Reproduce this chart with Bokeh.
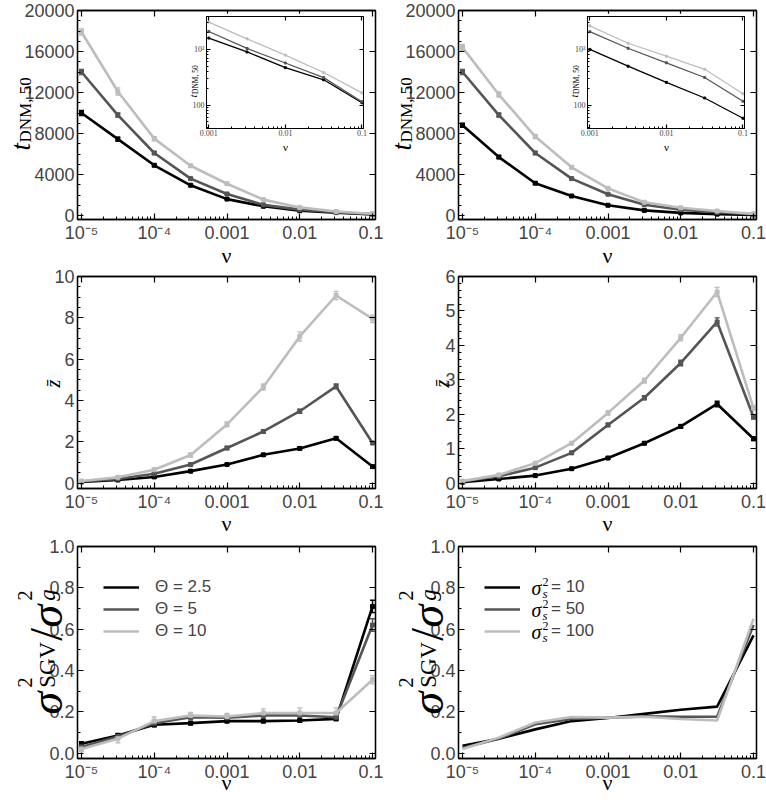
import math
from bokeh.plotting import figure
from bokeh.models import (ColumnDataSource, Range1d, FixedTicker, LogAxis, LinearAxis,
                          CustomJSTickFormatter, PrintfTickFormatter, Label, Legend,
                          LegendItem, Whisker, TeeHead, GridBox)
from bokeh.embed import file_html
from bokeh.resources import INLINE

# ---------------- data ----------------
NU = [1e-5, 3.16e-5, 1e-4, 3.16e-4, 1e-3, 3.16e-3, 1e-2, 3.16e-2, 1e-1]
X_TICKS = [1e-5, 1e-4, 1e-3, 1e-2, 1e-1]
X_TICK_LABELS = ["10\u207b\u2075", "10\u207b\u2074", "0.001", "0.01", "0.1"]
INSET_X_TICKS = [1e-3, 1e-2, 1e-1]
INSET_X_TICK_LABELS = ["0.001", "0.01", "0.1"]
INSET_Y_TICKS = [100, 1000]
INSET_Y_TICK_LABELS = ["100", "10\u00b3"]

THETA_LABELS = ["\u0398 = 2.5", "\u0398 = 5", "\u0398 = 10"]
SIGMA_VALUES = ["= 10", "= 50", "= 100"]
COLORS = ["#000000", "#555555", "#bdbdbd"]

# t_DNM,50 (Theta = 2.5, 5, 10)
T_THETA_25 = [10000, 7450, 4900, 2950, 1600, 900, 470, 285, 110]
T_THETA_5 = [14000, 9800, 6100, 3600, 2100, 1040, 570, 312, 115]
T_THETA_10 = [17900, 12100, 7500, 4850, 3100, 1550, 790, 385, 166]
T_THETA_25_ERR = [250, 180, 120, 70, 40, 20, 10, 5, 2]
T_THETA_5_ERR = [250, 200, 150, 80, 50, 25, 12, 6, 3]
T_THETA_10_ERR = [300, 350, 200, 120, 80, 40, 20, 10, 5]

# t_DNM,50 (sigma_s^2 = 10, 50, 100)
T_SIG_10 = [8800, 5700, 3150, 1900, 1000, 500, 256, 134, 58]
T_SIG_50 = [14000, 9800, 6100, 3600, 2080, 1050, 575, 313, 117]
T_SIG_100 = [16400, 11800, 7700, 4700, 2650, 1290, 755, 440, 160]
T_SIG_10_ERR = [200, 150, 100, 60, 30, 15, 8, 4, 2]
T_SIG_50_ERR = [250, 200, 150, 80, 50, 25, 12, 6, 3]
T_SIG_100_ERR = [300, 250, 200, 120, 70, 35, 18, 9, 4]

# z-bar (Theta)
Z_THETA_25 = [0.06, 0.15, 0.3, 0.58, 0.9, 1.37, 1.68, 2.17, 0.8]
Z_THETA_5 = [0.08, 0.2, 0.45, 0.9, 1.7, 2.5, 3.48, 4.68, 1.94]
Z_THETA_10 = [0.1, 0.28, 0.65, 1.36, 2.84, 4.65, 7.1, 9.08, 7.95]
Z_THETA_25_ERR = [0.02, 0.02, 0.03, 0.04, 0.04, 0.05, 0.06, 0.07, 0.04]
Z_THETA_5_ERR = [0.02, 0.03, 0.05, 0.06, 0.07, 0.08, 0.1, 0.12, 0.06]
Z_THETA_10_ERR = [0.03, 0.05, 0.08, 0.1, 0.12, 0.15, 0.22, 0.2, 0.18]

# z-bar (sigma)
Z_SIG_10 = [0.03, 0.12, 0.22, 0.42, 0.73, 1.16, 1.65, 2.3, 1.29]
Z_SIG_50 = [0.05, 0.2, 0.45, 0.88, 1.69, 2.48, 3.49, 4.68, 1.92]
Z_SIG_100 = [0.06, 0.24, 0.58, 1.16, 2.04, 2.98, 4.22, 5.55, 2.18]
Z_SIG_10_ERR = [0.01, 0.02, 0.02, 0.03, 0.03, 0.04, 0.05, 0.08, 0.05]
Z_SIG_50_ERR = [0.01, 0.02, 0.03, 0.04, 0.05, 0.06, 0.08, 0.12, 0.06]
Z_SIG_100_ERR = [0.01, 0.02, 0.03, 0.04, 0.06, 0.07, 0.09, 0.13, 0.07]

# sigma_SGV^2 / sigma_g^2 (Theta)
R_THETA_25 = [0.045, 0.085, 0.137, 0.145, 0.155, 0.155, 0.158, 0.166, 0.71]
R_THETA_5 = [0.03, 0.08, 0.145, 0.174, 0.171, 0.182, 0.182, 0.174, 0.62]
R_THETA_10 = [0.02, 0.07, 0.155, 0.182, 0.177, 0.194, 0.194, 0.194, 0.355]
R_THETA_25_ERR = [0.01, 0.01, 0.01, 0.008, 0.008, 0.008, 0.008, 0.008, 0.03]
R_THETA_5_ERR = [0.01, 0.01, 0.015, 0.012, 0.012, 0.012, 0.015, 0.01, 0.03]
R_THETA_10_ERR = [0.012, 0.02, 0.02, 0.015, 0.015, 0.02, 0.025, 0.025, 0.02]

# sigma_SGV^2 / sigma_g^2 (sigma)
R_SIG_10 = [0.035, 0.07, 0.115, 0.155, 0.17, 0.19, 0.21, 0.225, 0.57]
R_SIG_50 = [0.025, 0.07, 0.14, 0.165, 0.172, 0.178, 0.176, 0.176, 0.62]
R_SIG_100 = [0.02, 0.075, 0.148, 0.175, 0.172, 0.176, 0.165, 0.158, 0.65]

# ---------------- helpers ----------------
X_LO, X_HI = 10 ** -5.055, 10 ** -0.959
X_MINOR = [m * 10.0 ** e for e in range(-5, -1) for m in range(2, 10)]
INSET_X_MINOR = [m * 10.0 ** e for e in range(-3, -1) for m in range(2, 10)]
INSET_Y_MINOR = [m * 10.0 ** e for e in range(1, 4) for m in range(2, 10)]

SANS = "Liberation Sans"
SERIF = "Liberation Serif"
PAGE_W, PAGE_H = 766, 800
COL_OFF = 381          # horizontal offset between the two columns' frames
ROT = math.pi / 2


def fmt(tick_values, tick_labels):
    return CustomJSTickFormatter(args=dict(tv=tick_values, tl=tick_labels), code="""
        for (let i = 0; i < tv.length; i++) {
            if (Math.abs(Math.log10(tick) - Math.log10(tv[i])) < 1e-6) return tl[i];
        }
        return '';
    """)


def style_axis(ax, size="18px", font=SANS, tin=6, mtin=3, standoff=3, lw=1.3):
    ax.axis_line_color = "black"
    ax.axis_line_width = lw
    ax.major_tick_in = tin
    ax.major_tick_out = 0
    ax.major_tick_line_width = 1.2
    ax.minor_tick_in = mtin
    ax.minor_tick_out = 0
    ax.minor_tick_line_width = 1
    ax.major_label_text_font = font
    ax.major_label_text_font_size = size
    ax.major_label_standoff = standoff


def blank(ax):
    ax.formatter = CustomJSTickFormatter(code="return '';")
    ax.major_label_text_font_size = "1px"
    ax.major_label_standoff = 0


def main_panel(col, height, b_top, b_bottom, y_start, y_end, y_ticks, y_minor, yfmt=None):
    b_left, b_right = (77, 8) if col == 0 else (75, 10)
    p = figure(width=383, height=height, x_axis_type="log",
               x_range=Range1d(X_LO, X_HI), y_range=Range1d(y_start, y_end),
               output_backend="svg", toolbar_location=None, frame_align=False,
               min_border_left=b_left, min_border_right=b_right,
               min_border_top=b_top, min_border_bottom=b_bottom)
    p.grid.visible = False
    p.outline_line_color = "black"
    p.outline_line_width = 1.3
    xa = p.xaxis[0]
    xa.ticker = FixedTicker(ticks=X_TICKS, minor_ticks=X_MINOR)
    xa.formatter = fmt(X_TICKS, X_TICK_LABELS)
    style_axis(xa)
    ya = p.yaxis[0]
    ya.ticker = FixedTicker(ticks=y_ticks, minor_ticks=y_minor)
    if yfmt is not None:
        ya.formatter = yfmt
    style_axis(ya)
    top = LogAxis(ticker=FixedTicker(ticks=X_TICKS))
    style_axis(top)
    blank(top)
    p.add_layout(top, "above")
    right = LinearAxis(ticker=FixedTicker(ticks=y_ticks))
    style_axis(right)
    blank(right)
    p.add_layout(right, "right")
    return p


def add_series(p, xs, ys, errs, color, width=2.6, marker_size=4, whisker_lw=1.4):
    data = dict(x=xs, y=ys)
    if errs is not None:
        data["lo"] = [y - e for y, e in zip(ys, errs)]
        data["up"] = [y + e for y, e in zip(ys, errs)]
    src = ColumnDataSource(data)
    r = p.line("x", "y", source=src, line_color=color, line_width=width)
    if errs is not None:
        p.add_layout(Whisker(source=src, base="x", lower="lo", upper="up", dimension="height",
                             line_color=color, line_width=whisker_lw,
                             upper_head=TeeHead(size=5, line_color=color, line_width=whisker_lw),
                             lower_head=TeeHead(size=5, line_color=color, line_width=whisker_lw)))
    if marker_size:
        p.scatter("x", "y", source=src, size=marker_size, marker="square",
                  fill_color=color, line_color=color)
    return r


def inset_panel(series):
    q = figure(width=188, height=139, x_axis_type="log", y_axis_type="log",
               x_range=Range1d(10 ** -3.03, 10 ** -0.98), y_range=Range1d(38, 3900),
               output_backend="svg", toolbar_location=None, frame_align=False,
               min_border_left=25, min_border_right=6, min_border_top=3, min_border_bottom=24)
    q.grid.visible = False
    q.outline_line_color = "black"
    q.outline_line_width = 1
    xa = q.xaxis[0]
    xa.ticker = FixedTicker(ticks=INSET_X_TICKS, minor_ticks=INSET_X_MINOR)
    xa.formatter = fmt(INSET_X_TICKS, INSET_X_TICK_LABELS)
    style_axis(xa, size="8px", font=SERIF, tin=4, mtin=2, standoff=1, lw=1)
    ya = q.yaxis[0]
    ya.ticker = FixedTicker(ticks=INSET_Y_TICKS, minor_ticks=INSET_Y_MINOR)
    ya.formatter = fmt(INSET_Y_TICKS, INSET_Y_TICK_LABELS)
    style_axis(ya, size="8px", font=SERIF, tin=4, mtin=2, standoff=2, lw=1)
    top = LogAxis(ticker=FixedTicker(ticks=INSET_X_TICKS))
    style_axis(top, tin=4, lw=1)
    blank(top)
    q.add_layout(top, "above")
    right = LogAxis(ticker=FixedTicker(ticks=INSET_Y_TICKS))
    style_axis(right, tin=4, lw=1)
    blank(right)
    q.add_layout(right, "right")
    for ys, c in zip(series, COLORS):
        add_series(q, NU[4:], ys[4:], None, c, width=1.3, marker_size=2)
    return q


def legend(p, renderers, labels, standoff):
    lg = Legend(items=[LegendItem(label=l, renderers=[r]) for l, r in zip(labels, renderers)],
                location=(26, 117), orientation="vertical", background_fill_alpha=0,
                border_line_color=None, glyph_width=36, glyph_height=20, label_height=20,
                spacing=2, padding=0, margin=0, label_standoff=standoff,
                label_text_font=SANS, label_text_font_size="17px")
    p.add_layout(lg)


# ---------------- panels ----------------
T_TICKS = [0, 4000, 8000, 12000, 16000, 20000]
T_MINOR = [v for v in range(0, 20001, 1000) if v % 4000]

p11 = main_panel(0, 268, 10, 49, -390, 20000, T_TICKS, T_MINOR)
for ys, es, c in zip([T_THETA_25, T_THETA_5, T_THETA_10],
                     [T_THETA_25_ERR, T_THETA_5_ERR, T_THETA_10_ERR], COLORS):
    add_series(p11, NU, ys, es, c)
ins1 = inset_panel([T_THETA_25, T_THETA_5, T_THETA_10])

p12 = main_panel(1, 268, 10, 49, -390, 20000, T_TICKS, T_MINOR)
for ys, es, c in zip([T_SIG_10, T_SIG_50, T_SIG_100],
                     [T_SIG_10_ERR, T_SIG_50_ERR, T_SIG_100_ERR], COLORS):
    add_series(p12, NU, ys, es, c)
ins2 = inset_panel([T_SIG_10, T_SIG_50, T_SIG_100])

p21 = main_panel(0, 270, 8, 50, -0.26, 10, [0, 2, 4, 6, 8, 10],
                 [v / 2 for v in range(0, 21) if v % 4])
for ys, es, c in zip([Z_THETA_25, Z_THETA_5, Z_THETA_10],
                     [Z_THETA_25_ERR, Z_THETA_5_ERR, Z_THETA_10_ERR], COLORS):
    add_series(p21, NU, ys, es, c)

p22 = main_panel(1, 270, 8, 50, -0.155, 6, [0, 1, 2, 3, 4, 5, 6],
                 [v / 5 for v in range(0, 31) if v % 5])
for ys, es, c in zip([Z_SIG_10, Z_SIG_50, Z_SIG_100],
                     [Z_SIG_10_ERR, Z_SIG_50_ERR, Z_SIG_100_ERR], COLORS):
    add_series(p22, NU, ys, es, c)

R_TICKS = [0, 0.2, 0.4, 0.6, 0.8, 1.0]
R_MINOR = [0.1, 0.3, 0.5, 0.7, 0.9]
p31 = main_panel(0, 262, 8, 42, -0.026, 1.0, R_TICKS, R_MINOR, PrintfTickFormatter(format="%.1f"))
rs = []
for ys, es, c in zip([R_THETA_25, R_THETA_5, R_THETA_10],
                     [R_THETA_25_ERR, R_THETA_5_ERR, R_THETA_10_ERR], COLORS):
    rs.append(add_series(p31, NU, ys, es, c))
legend(p31, rs, THETA_LABELS, 16)

p32 = main_panel(1, 262, 8, 42, -0.026, 1.0, R_TICKS, R_MINOR, PrintfTickFormatter(format="%.1f"))
rs = []
for ys, c in zip([R_SIG_10, R_SIG_50, R_SIG_100], COLORS):
    rs.append(add_series(p32, NU, ys, None, c, marker_size=0))
legend(p32, rs, SIGMA_VALUES, 31)
for yc in (171, 149, 127):
    p32.add_layout(Label(x=73, y=yc, x_units="screen", y_units="screen", text="\u03c3",
                         text_font=SERIF, text_font_size="20px", text_font_style="italic",
                         text_baseline="middle", text_color="black"))
    p32.add_layout(Label(x=84, y=yc + 6, x_units="screen", y_units="screen", text="2",
                         text_font=SERIF, text_font_size="12px",
                         text_baseline="middle", text_color="black"))
    p32.add_layout(Label(x=84, y=yc - 6, x_units="screen", y_units="screen", text="s",
                         text_font=SERIF, text_font_size="13px", text_font_style="italic",
                         text_baseline="middle", text_color="black"))

# ---------------- overlay with the axis titles (page pixel coordinates) ----------------
ov = figure(width=PAGE_W, height=PAGE_H, x_range=Range1d(0, PAGE_W), y_range=Range1d(PAGE_H, 0),
            output_backend="svg", toolbar_location=None, x_axis_location=None,
            y_axis_location=None, frame_align=False,
            min_border_left=0, min_border_right=0, min_border_top=0, min_border_bottom=0,
            background_fill_color=None, border_fill_color=None, outline_line_color=None)
ov.xgrid.visible = False
ov.ygrid.visible = False
ov.grid.grid_line_color = None


def olabel(text, x, y, size, style="normal", angle=0.0, align="left", baseline="alphabetic",
           font=SERIF):
    ov.add_layout(Label(x=x, y=y, text=text, angle=angle, text_font=font,
                        text_font_size=f"{size}px", text_font_style=style,
                        text_align=align, text_baseline=baseline, text_color="black"))


for off in (0, COL_OFF):
    # x axis titles
    for yc in (255, 523, 782):
        olabel("\u03bd", 226 + off, yc, 22, align="center", baseline="middle")
    # row 1: t_DNM,50
    olabel("t", 20 + off, 150, 27, "italic", ROT)
    olabel("DNM, 50", 25 + off, 142, 17, angle=ROT)
    # inset titles
    olabel("\u03bd", 285 + off, 146, 11, align="center", baseline="middle")
    olabel("t", 192 + off, 97, 11, "italic", ROT)
    olabel("DNM, 50", 194.5 + off, 93.5, 7.5, angle=ROT)
    # row 3: sigma_SGV^2 / sigma_g^2
    F, f_sup, f_sub = 46, 21, 23
    xb, xsub, xsup = 46 + off, 47 + off, 24 + off
    y = 714
    olabel("\u03c3", xb, y, F, "italic", ROT)
    y -= 0.58 * F
    olabel("2", xsup, y, f_sup, angle=ROT)
    olabel("SGV", xsub, y, f_sub, angle=ROT)
    y -= 2.0 * f_sub + 1
    olabel("/", xb, y, F, angle=ROT)
    y -= 0.29 * F
    olabel("\u03c3", xb, y, F, "italic", ROT)
    y -= 0.58 * F
    olabel("2", xsup, y, f_sup, angle=ROT)
    olabel("g", xsub, y, f_sub, "italic", ROT)

# row 2: z-bar
olabel("z\u0304", 52, 383, 20, "italic", ROT, align="center")
olabel("z\u0304", 441, 383, 20, "italic", ROT, align="center")

grid = GridBox(children=[(p11, 0, 0, 3, 3), (p12, 0, 3, 3, 3),
                         (p21, 3, 0, 1, 3), (p22, 3, 3, 1, 3),
                         (p31, 4, 0, 1, 3), (p32, 4, 3, 1, 3),
                         (ins1, 1, 1, 1, 1), (ins2, 1, 4, 1, 1),
                         (ov, 0, 0, 5, 6)],
               cols=["181px", "188px", "14px", "179px", "188px", "16px"],
               rows=["13px", "139px", "116px", "270px", "262px"])

open("out.html", "w").write(file_html(grid, INLINE))
